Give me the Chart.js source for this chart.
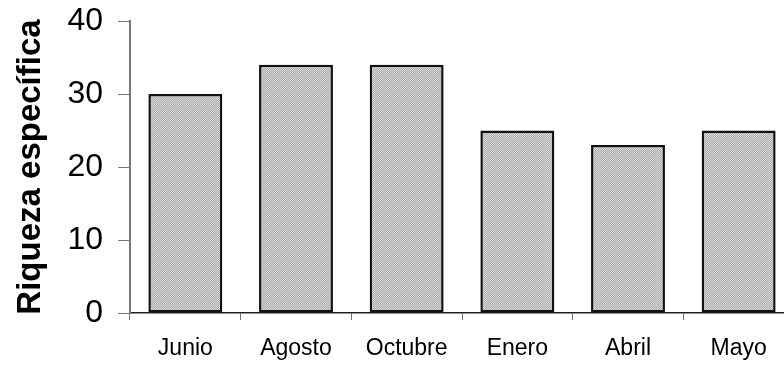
<!DOCTYPE html>
<html>
<head>
<meta charset="utf-8">
<script src="https://cdn.jsdelivr.net/npm/chart.js@4"></script>
<style>
  html, body { margin: 0; padding: 0; background: #fff; overflow: hidden; width: 784px; height: 366px; }
  #wrap { width: 800px; height: 366px; position: relative; }
</style>
</head>
<body>
<div id="wrap"><canvas id="c"></canvas></div>
<script>
const categories = ['Junio', 'Agosto', 'Octubre', 'Enero', 'Abril', 'Mayo'];
const riqueza = [30, 34, 34, 25, 23, 25];
const yTicks = [0, 10, 20, 30, 40];
const yTitle = 'Riqueza específica';

function makePattern() {
  const p = document.createElement('canvas');
  p.width = 4; p.height = 4;
  const g = p.getContext('2d');
  g.fillStyle = '#d9d9d9';
  g.fillRect(0, 0, 4, 4);
  g.fillStyle = '#ababab';
  for (let i = 0; i < 4; i++) {
    g.fillRect(i, (3 - i), 1, 1);
    g.fillRect((i + 2) % 4, (3 - i), 1, 1);
  }
  return g.createPattern(p, 'repeat');
}

const FONT = "'Liberation Sans', Arial, sans-serif";

new Chart(document.getElementById('c'), {
  type: 'bar',
  data: {
    labels: categories,
    datasets: [{
      data: riqueza,
      backgroundColor: makePattern(),
      borderColor: '#111111',
      borderWidth: 2.5,
      borderSkipped: false,
      barPercentage: 0.668,
      categoryPercentage: 1.0
    }]
  },
  options: {
    responsive: true,
    maintainAspectRatio: false,
    animation: false,
    layout: { padding: { left: 0, right: 6, top: 21, bottom: 0 } },
    plugins: { legend: { display: false }, tooltip: { enabled: false } },
    scales: {
      x: {
        offset: true,
        grid: { drawOnChartArea: false, drawTicks: true, tickLength: 7, color: '#777777', offset: true },
        border: { display: true, color: '#222222', width: 1.5 },
        ticks: { color: '#000', font: { family: FONT, size: 23 }, padding: 15, maxRotation: 0, autoSkip: false },
        afterFit: (s) => { s.height = 53; s.paddingLeft = 0; s.paddingRight = 0; }
      },
      y: {
        min: 0, max: 40,
        afterBuildTicks: (s) => { s.ticks = yTicks.map(v => ({ value: v })); },
        grid: { drawOnChartArea: false, drawTicks: true, tickLength: 12, color: '#777777' },
        border: { display: true, color: '#777777', width: 2 },
        ticks: { color: '#000', font: { family: FONT, size: 32 }, padding: 15 },
        title: { display: true, text: yTitle, color: '#000', font: { family: FONT, size: 33, weight: 'bold' }, padding: { top: 11, bottom: 0 } },
        afterFit: (s) => { s.width = 130; s.paddingTop = 0; s.paddingBottom = 0; }
      }
    }
  }
});
</script>
</body>
</html>
